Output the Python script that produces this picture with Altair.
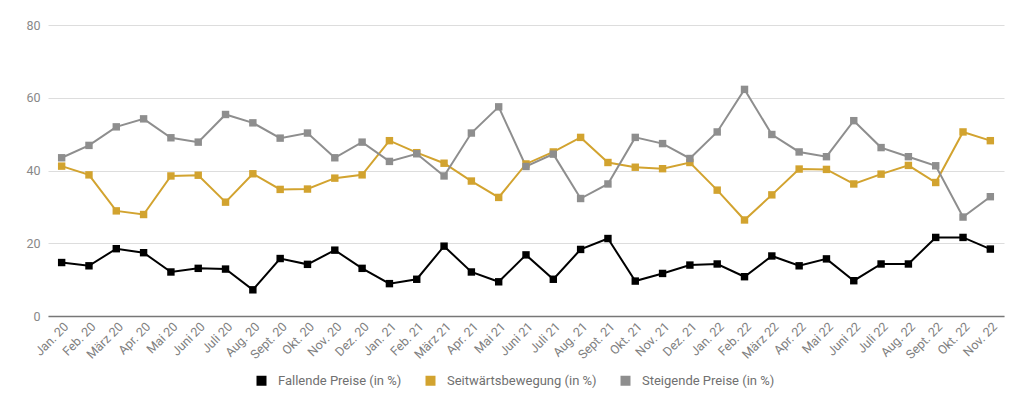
import altair as alt
import pandas as pd

months = ["Jan. 20", "Feb. 20", "März 20", "Apr. 20", "Mai 20", "Juni 20", "Juli 20", "Aug. 20",
          "Sept. 20", "Okt. 20", "Nov. 20", "Dez. 20",
          "Jan. 21", "Feb. 21", "März 21", "Apr. 21", "Mai 21", "Juni 21", "Juli 21", "Aug. 21",
          "Sept. 21", "Okt. 21", "Nov. 21", "Dez. 21",
          "Jan. 22", "Feb. 22", "März 22", "Apr. 22", "Mai 22", "Juni 22", "Juli 22", "Aug. 22",
          "Sept. 22", "Okt. 22", "Nov. 22"]

fallende = [14.7, 13.8, 18.5, 17.4, 12.1, 13.1, 12.9, 7.2, 15.8, 14.2, 18.1, 13.1,
            8.9, 10.1, 19.2, 12.1, 9.4, 16.8, 10.1, 18.3, 21.3, 9.6, 11.7, 14.0,
            14.3, 10.8, 16.5, 13.8, 15.7, 9.7, 14.3, 14.3, 21.6, 21.6, 18.4]

seitwaerts = [41.2, 38.8, 28.9, 27.9, 38.5, 38.7, 31.3, 39.1, 34.8, 34.9, 37.9, 38.8,
              48.2, 44.9, 42.0, 37.1, 32.6, 41.8, 45.1, 49.1, 42.2, 40.9, 40.5, 42.2,
              34.6, 26.4, 33.3, 40.4, 40.3, 36.3, 39.0, 41.4, 36.7, 50.6, 48.2]

steigende = [43.5, 46.9, 52.0, 54.2, 49.0, 47.8, 55.4, 53.1, 48.9, 50.3, 43.5, 47.8,
             42.5, 44.6, 38.5, 50.3, 57.5, 41.1, 44.5, 32.3, 36.3, 49.1, 47.4, 43.3,
             50.6, 62.3, 49.9, 45.1, 43.8, 53.7, 46.3, 43.8, 41.3, 27.2, 32.8]

series = ["Fallende Preise (in %)", "Seitwärtsbewegung (in %)", "Steigende Preise (in %)"]
colors = ["#000000", "#D2A32F", "#8E8E8E"]

rows = []
for name, vals in zip(series, [fallende, seitwaerts, steigende]):
    for m, v in zip(months, vals):
        rows.append({"Monat": m, "Wert": v, "Serie": name})
df = pd.DataFrame(rows)

x = alt.X("Monat:N", sort=months, title=None,
          scale=alt.Scale(padding=0.5),
          axis=alt.Axis(labelAngle=-45, labelAlign="right", labelBaseline="top",
                        labelColor="#808080", labelFontSize=12.5, labelPadding=4,
                        ticks=False, domainColor="#777777", domainWidth=1.5,
                        grid=False, labelFont="Roboto"))
y = alt.Y("Wert:Q", title=None,
          scale=alt.Scale(domain=[0, 80]),
          axis=alt.Axis(values=[0, 20, 40, 60, 80], labelColor="#888888", labelFontSize=12.5,
                        ticks=False, domain=False, gridColor="#DDDDDD", labelPadding=8,
                        labelFont="Roboto"))
color = alt.Color("Serie:N", sort=series,
                  scale=alt.Scale(domain=series, range=colors),
                  legend=alt.Legend(title=None, orient="none", direction="horizontal",
                                    legendX=207, legendY=349, symbolType="square",
                                    symbolSize=100, labelFontSize=13, labelColor="#707070",
                                    labelFont="Roboto", columnPadding=22, labelOffset=10,
                                    symbolStrokeWidth=0))

base = alt.Chart(df).encode(x=x, y=y, color=color)
lines = base.mark_line(strokeWidth=2)
points = base.mark_point(shape="square", filled=True, size=55, opacity=1)

chart = alt.layer(lines, points).properties(
    width=956, height=291,
    autosize=alt.AutoSizeParams(type="none"),
    padding={"left": 40, "top": 17, "right": 12, "bottom": 80},
    background="white",
).configure_view(stroke=None)

chart.save("out.html", embed_options={"renderer": "svg", "actions": False})
